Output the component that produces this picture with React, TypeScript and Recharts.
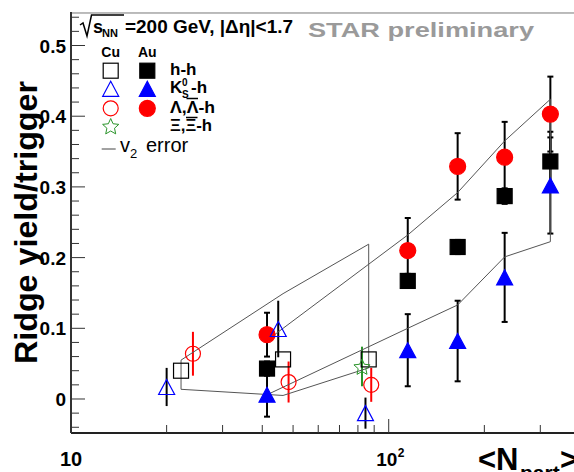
import React from 'react';
import { ComposedChart, Scatter, XAxis, YAxis, ErrorBar, ReferenceLine } from 'recharts';

const FONT = '"Liberation Sans", Arial, Helvetica, sans-serif';

// Au+Au, <Npart> per centrality bin
const auNpart = [41.4, 114.8, 164.8, 231.7, 322.7];
const auHH = [0.043, 0.167, 0.215, 0.287, 0.336];
const auHHErr = [0.01, 0.01, 0.01, 0.011, 0.042];
const auK0s = [0.006, 0.069, 0.082, 0.172, 0.302];
const auK0sErr = [0.031, 0.051, 0.057, 0.063, 0.068];
const auLam = [0.091, 0.21, 0.329, 0.342, 0.403];
const auLamErr = [0.031, 0.046, 0.047, 0.05, 0.053];

// Cu+Cu (species plotted at slightly shifted Npart)
const cuHHNpart = [22.2, 46.5, 86.5];
const cuHH = [0.04, 0.056, 0.056];
const cuK0sNpart = [20, 44.9, 84.5];
const cuK0s = [0.017, 0.099, -0.02];
const cuK0sErr = [0.027, 0.04, 0.022];
const cuLamNpart = [24.2, 48.4, 88.1];
const cuLam = [0.064, 0.024, 0.02];
const cuLamErr = [0.031, 0.029, 0.024];
const cuXiNpart = [82.4];
const cuXi = [0.046];
const cuXiErr = [0.028];

// v2 error band edges (h-h)
const auBandNpart = [41.4, 114.8, 164.8, 231.7, 322.7];
const auBandHigh = [0.083, 0.232, 0.292, 0.365, 0.424];
const auBandLow = [0.006, 0.1, 0.133, 0.201, 0.2225];
const cuBandNpart = [22.2, 46.5, 86.5];
const cuBandHigh = [0.055, 0.149, 0.219];
const cuBandLow = [0.0137, 0.005, 0.044];

const xTicks = [10, 20, 30, 40, 50, 60, 70, 80, 90, 100, 200, 300];
const yTicks = [-0.04, -0.02, 0, 0.02, 0.04, 0.06, 0.08, 0.1, 0.12, 0.14, 0.16, 0.18, 0.2, 0.22, 0.24,
  0.26, 0.28, 0.3, 0.32, 0.34, 0.36, 0.38, 0.4, 0.42, 0.44, 0.46, 0.48, 0.5, 0.52, 0.54];

const W = 574;
const H = 472;
const LEFT = 71;
const TOP = 12;
const BOTTOM = 433;
const X_DOMAIN = [10, 383];
const Y_DOMAIN = [-0.0481, 0.5474];

const pts = (xs: number[], ys: number[], errs?: number[]) =>
  xs.map((x, i) => ({ x, y: ys[i], err: errs ? errs[i] : 0 }));

const auBand = [
  ...pts(auBandNpart, auBandHigh),
  ...pts(auBandNpart, auBandLow).reverse(),
];
const cuBand = [
  ...pts(cuBandNpart, cuBandHigh),
  ...pts(cuBandNpart, cuBandLow).reverse(),
  ...pts(cuBandNpart, cuBandHigh).slice(0, 1),
];

const RED = '#ff0000';
const BLUE = '#0000ff';
const GREEN = '#2a942a';

function Marker({ kind, cx, cy, color, filled }: any) {
  const fill = filled ? color : 'none';
  const sw = 1.2;
  if (kind === 'square') {
    return <rect x={cx - 7.5} y={cy - 7.5} width={15} height={15} fill={fill} stroke={color} strokeWidth={sw} />;
  }
  if (kind === 'circle') {
    return <circle cx={cx} cy={cy} r={filled ? 8 : 7.5} fill={fill} stroke={color} strokeWidth={sw} />;
  }
  if (kind === 'triangle') {
    return (
      <polygon
        points={`${cx},${cy - 7.5} ${cx + 8},${cy + 7.5} ${cx - 8},${cy + 7.5}`}
        fill={fill}
        stroke={color}
        strokeWidth={sw}
      />
    );
  }
  // star
  const p: string[] = [];
  for (let i = 0; i < 10; i++) {
    const r = i % 2 === 0 ? 8.5 : 4;
    const a = -Math.PI / 2 + (i * Math.PI) / 5;
    p.push(`${cx + r * Math.cos(a)},${cy + 1 + r * Math.sin(a)}`);
  }
  return <polygon points={p.join(' ')} fill={fill} stroke={color} strokeWidth={1} />;
}

const shape = (kind: string, color: string, filled: boolean) => (props: any) =>
  <Marker kind={kind} cx={props.cx} cy={props.cy} color={color} filled={filled} />;

const NoShape = () => <g />;

function XTick({ x, payload }: any) {
  const v = payload.value;
  const major = v === 10 || v === 100;
  return (
    <g>
      <line x1={x} x2={x} y1={BOTTOM} y2={BOTTOM - (major ? 14 : 8)} stroke="#333" strokeWidth={1} />
      {v === 10 && (
        <text x={x} y={466} textAnchor="middle" fontFamily={FONT} fontWeight="bold" fontSize={20} fill="#000">10</text>
      )}
      {v === 100 && (
        <g>
          <text x={x - 2} y={466} textAnchor="middle" fontFamily={FONT} fontWeight="bold" fontSize={19} fill="#000">10</text>
          <text x={x + 9} y={457} fontFamily={FONT} fontWeight="bold" fontSize={12} fill="#000">2</text>
        </g>
      )}
    </g>
  );
}

function YTick({ y, payload }: any) {
  const v = payload.value;
  const major = Math.abs(v * 10 - Math.round(v * 10)) < 1e-6;
  return (
    <g>
      <line x1={LEFT} x2={LEFT + (major ? 14 : 8)} y1={y} y2={y} stroke="#333" strokeWidth={1} />
      {major && v >= 0 && (
        <text x={66} y={y + 7} textAnchor="end" fontFamily={FONT} fontWeight="bold" fontSize={19} fill="#000">
          {Math.round(v * 10) === 0 ? '0' : (Math.round(v * 10) / 10).toString()}
        </text>
      )}
    </g>
  );
}

function Legend() {
  const t = { fontFamily: FONT, fontWeight: 'bold' as const, fill: '#000' };
  return (
    <svg width={W} height={H} style={{ position: 'absolute', left: 0, top: 0, pointerEvents: 'none' }}>
      <path d="M80,25 L83,23 L87,36 L91.5,15 L124,15" fill="none" stroke="#000" strokeWidth={1.5} />
      <text x={93} y={33} fontSize={18} {...t}>s</text>
      <text x={102} y={37} fontSize={11} {...t}>NN</text>
      <text x={125} y={33} fontSize={18} textLength={168} lengthAdjust="spacingAndGlyphs" {...t}>=200 GeV, |Δη|&lt;1.7</text>

      <text x={110.7} y={57} fontSize={14} textAnchor="middle" {...t}>Cu</text>
      <text x={147.3} y={57} fontSize={14} textAnchor="middle" {...t}>Au</text>

      <Marker kind="square" cx={110.7} cy={70.7} color="#000" filled={false} />
      <Marker kind="square" cx={147.3} cy={70.7} color="#000" filled />
      <text x={170} y={75} fontSize={17} {...t}>h-h</text>

      <Marker kind="triangle" cx={110.7} cy={88.8} color={BLUE} filled={false} />
      <Marker kind="triangle" cx={147.3} cy={88.8} color={BLUE} filled />
      <text x={170} y={93} fontSize={17} {...t}>K</text>
      <text x={182} y={86} fontSize={10} {...t}>0</text>
      <text x={182} y={98} fontSize={10} {...t}>S</text>
      <text x={191} y={93} fontSize={17} {...t}>-h</text>

      <Marker kind="circle" cx={110.7} cy={108.3} color={RED} filled={false} />
      <Marker kind="circle" cx={147.3} cy={108.3} color={RED} filled />
      <text x={170} y={113} fontSize={17} textLength={45} lengthAdjust="spacingAndGlyphs" {...t}>Λ,Λ-h</text>
      <line x1={186.5} x2={198} y1={98.5} y2={98.5} stroke="#000" strokeWidth={1.5} />

      <Marker kind="star" cx={110.7} cy={126} color={GREEN} filled={false} />
      <text x={170} y={131} fontSize={17} textLength={42} lengthAdjust="spacingAndGlyphs" {...t}>Ξ,Ξ-h</text>
      <line x1={186} x2={197.5} y1={117.5} y2={117.5} stroke="#000" strokeWidth={1.5} />

      <line x1={101.7} x2={115.7} y1={149} y2={149} stroke="#444" strokeWidth={1} />
      <text x={120} y={152} fontSize={20} fontFamily={FONT} fill="#000">v</text>
      <text x={130} y={158} fontSize={13} fontFamily={FONT} fill="#000">2</text>
      <text x={146} y={152} fontSize={20} fontFamily={FONT} fill="#000">error</text>

      <text x={308} y={37} fontSize={21} fontFamily={FONT} fontWeight="bold" fill="#9a9a9a" textLength={226} lengthAdjust="spacingAndGlyphs">
        STAR preliminary
      </text>

      <text
        transform="rotate(-90)"
        x={-222.5}
        y={37}
        textAnchor="middle"
        fontSize={32}
        textLength={283}
        lengthAdjust="spacingAndGlyphs"
        {...t}
      >
        Ridge yield/trigger
      </text>

      <text x={478} y={470} fontSize={31} {...t}>&lt;N</text>
      <text x={520} y={480} fontSize={21} {...t}>part</text>
      <text x={560} y={470} fontSize={31} {...t}>&gt;</text>
    </svg>
  );
}

export default function App() {
  const bar = { dataKey: 'err', direction: 'y' as const, isAnimationActive: false };
  return (
    <div style={{ position: 'absolute', left: 0, top: 0, width: W, height: H, background: '#fff', overflow: 'hidden' }}>
      <ComposedChart width={W} height={H} margin={{ top: TOP, right: 0, bottom: 0, left: 0 }}>
        <XAxis
          dataKey="x"
          type="number"
          scale="log"
          domain={X_DOMAIN}
          allowDataOverflow
          ticks={xTicks}
          interval={0}
          height={H - BOTTOM}
          tickLine={false}
          tickSize={0}
          tickMargin={0}
          axisLine={{ stroke: '#222', strokeWidth: 2 }}
          tick={<XTick />}
        />
        <YAxis
          dataKey="y"
          type="number"
          domain={Y_DOMAIN}
          allowDataOverflow
          ticks={yTicks}
          interval={0}
          width={LEFT}
          tickLine={false}
          tickSize={0}
          tickMargin={0}
          axisLine={{ stroke: '#333', strokeWidth: 2 }}
          tick={<YTick />}
        />
        <ReferenceLine y={0.546} stroke="#777" strokeWidth={1} ifOverflow="visible" />

        <Scatter data={auBand} line={{ stroke: '#555', strokeWidth: 1 }} shape={NoShape} isAnimationActive={false} />
        <Scatter data={cuBand} line={{ stroke: '#555', strokeWidth: 1 }} shape={NoShape} isAnimationActive={false} />

        <Scatter data={pts(auNpart, auHH, auHHErr)} shape={shape('square', '#000', true)} isAnimationActive={false}>
          <ErrorBar {...bar} width={3} stroke="#000" strokeWidth={2} />
        </Scatter>
        <Scatter data={pts(auNpart, auK0s, auK0sErr)} shape={shape('triangle', BLUE, true)} isAnimationActive={false}>
          <ErrorBar {...bar} width={3} stroke="#000" strokeWidth={2} />
        </Scatter>
        <Scatter data={pts(auNpart, auLam, auLamErr)} shape={shape('circle', RED, true)} isAnimationActive={false}>
          <ErrorBar {...bar} width={3} stroke="#000" strokeWidth={2} />
        </Scatter>

        <Scatter data={pts(cuHHNpart, cuHH)} shape={shape('square', '#000', false)} isAnimationActive={false} />
        <Scatter data={pts(cuK0sNpart, cuK0s, cuK0sErr)} shape={shape('triangle', BLUE, false)} isAnimationActive={false}>
          <ErrorBar {...bar} width={0} stroke="#000" strokeWidth={2} />
        </Scatter>
        <Scatter data={pts(cuLamNpart, cuLam, cuLamErr)} shape={shape('circle', RED, false)} isAnimationActive={false}>
          <ErrorBar {...bar} width={0} stroke={RED} strokeWidth={2} />
        </Scatter>
        <Scatter data={pts(cuXiNpart, cuXi, cuXiErr)} shape={shape('star', GREEN, false)} isAnimationActive={false}>
          <ErrorBar {...bar} width={0} stroke={GREEN} strokeWidth={2} />
        </Scatter>
      </ComposedChart>
      <Legend />
    </div>
  );
}
